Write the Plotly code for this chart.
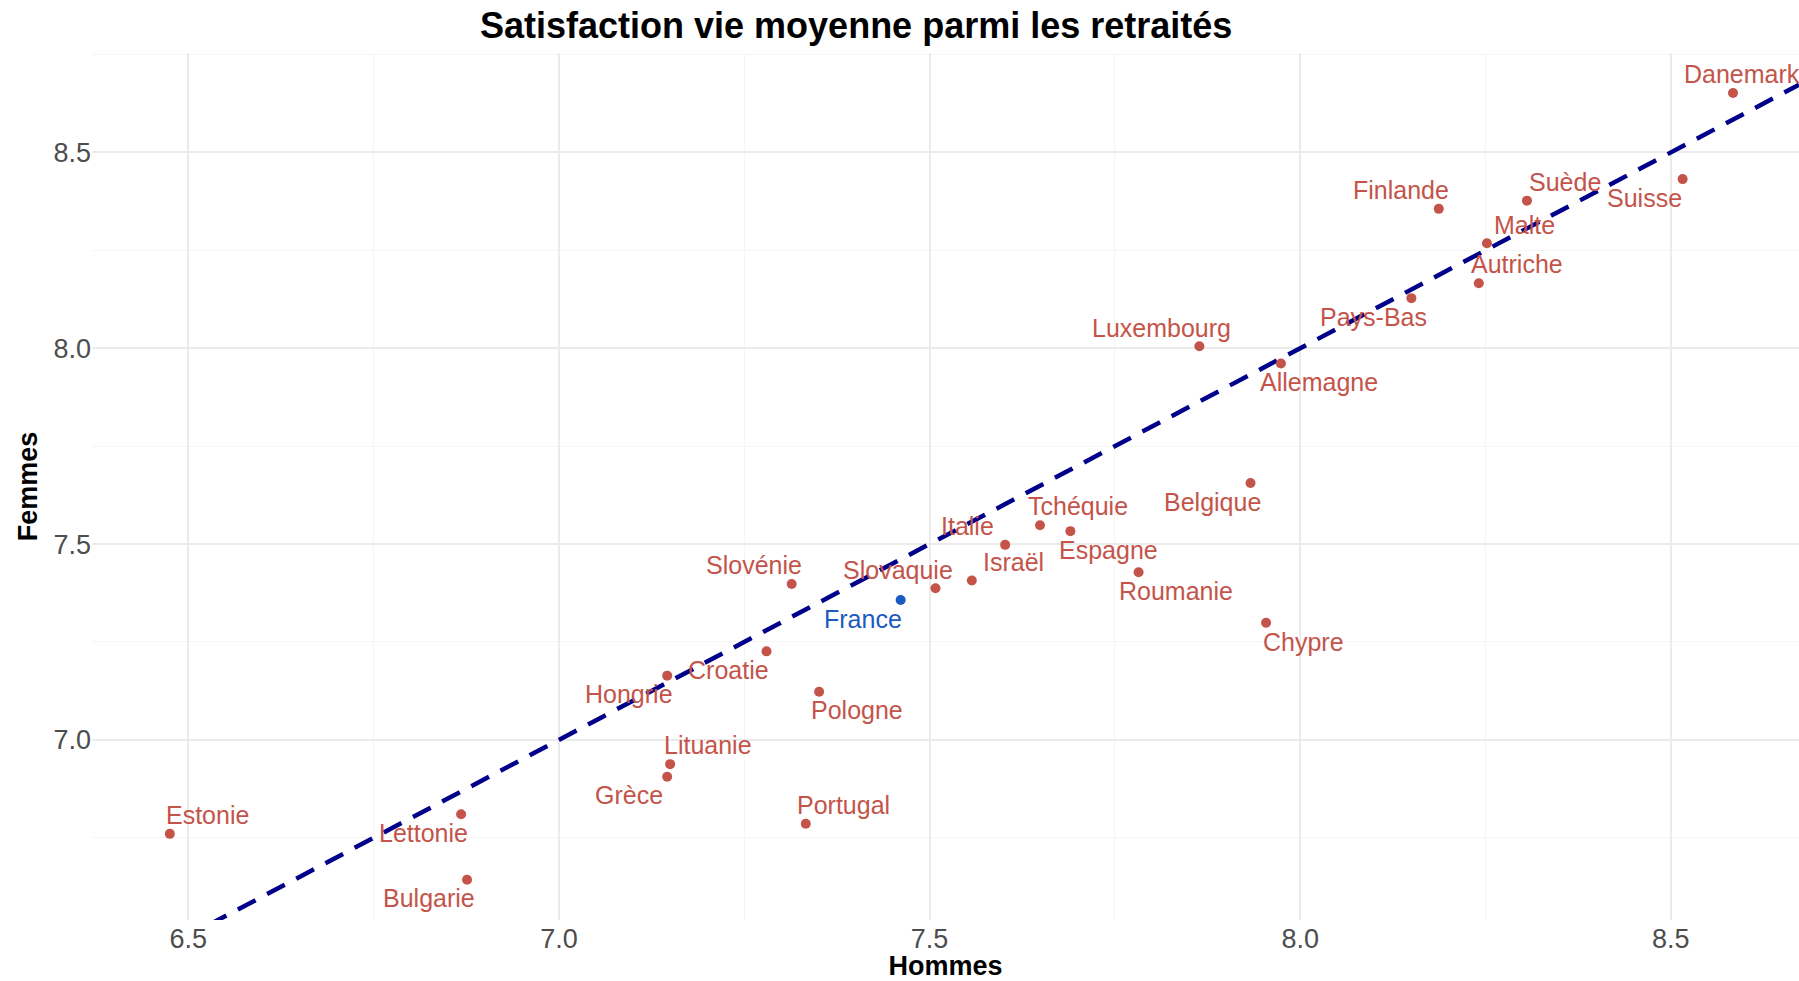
import plotly.graph_objects as go

# Satisfaction moyenne : hommes (x) vs femmes (y)
pays = ["Danemark", "Suisse", "Suède", "Finlande", "Malte", "Autriche", "Pays-Bas",
        "Luxembourg", "Allemagne", "Belgique", "Tchéquie", "Espagne", "Italie", "Israël",
        "Slovaquie", "France", "Roumanie", "Chypre", "Slovénie", "Croatie", "Hongrie",
        "Pologne", "Lituanie", "Grèce", "Portugal", "Estonie", "Lettonie", "Bulgarie"]
hommes = [8.584, 8.516, 8.306, 8.187, 8.252, 8.241, 8.150,
          7.864, 7.974, 7.933, 7.649, 7.690, 7.602, 7.557,
          7.508, 7.461, 7.782, 7.954, 7.314, 7.280, 7.146,
          7.351, 7.150, 7.146, 7.333, 6.475, 6.868, 6.876]
femmes = [8.652, 8.432, 8.377, 8.356, 8.268, 8.166, 8.128,
          8.005, 7.961, 7.656, 7.548, 7.533, 7.498, 7.407,
          7.387, 7.357, 7.428, 7.299, 7.398, 7.226, 7.164,
          7.123, 6.938, 6.906, 6.786, 6.760, 6.810, 6.643]

x_ticks = [6.5, 7.0, 7.5, 8.0, 8.5]
y_ticks = [7.0, 7.5, 8.0, 8.5]

# direction of the label nudge for each country (sx, sy)
nudge = {
    "Danemark": (0.25, 1), "Suisse": (-1, -1), "Suède": (1, 1), "Finlande": (-1, 1),
    "Malte": (1, 1), "Autriche": (1, 1), "Pays-Bas": (-1, -1), "Luxembourg": (-1, 1),
    "Allemagne": (1, -1), "Belgique": (-1, -1), "Tchéquie": (1, 1), "Espagne": (1, -1),
    "Italie": (-1, 1), "Israël": (1.1, 1), "Slovaquie": (-1, 1), "France": (-1, -1),
    "Roumanie": (1, -1), "Chypre": (1, -1), "Slovénie": (-1, 1), "Croatie": (-1, -1),
    "Hongrie": (-1, -1), "Pologne": (1, -1), "Lituanie": (1, 1), "Grèce": (-1, -1),
    "Portugal": (1, 1), "Estonie": (1, 1), "Lettonie": (-1, -1), "Bulgarie": (-1, -1),
}
NX, NY = 0.051, 0.048

RED = "#C4544A"
BLUE = "#1A5BC2"
colors = [BLUE if p == "France" else RED for p in pays]

xr = [6.370, 8.673]
yr = [6.540, 8.754]

fig = go.Figure()

# diagonale y = x
fig.add_trace(go.Scatter(
    x=xr, y=xr, mode="lines",
    line=dict(color="#00008B", width=4.5, dash="20px,13px"),
    hoverinfo="skip", showlegend=False,
))

fig.add_trace(go.Scatter(
    x=hommes, y=femmes, mode="markers",
    marker=dict(color=colors, size=10),
    text=pays, hovertemplate="%{text}<br>Hommes %{x}<br>Femmes %{y}<extra></extra>",
    showlegend=False,
))

for p, hx, fy, c in zip(pays, hommes, femmes, colors):
    sx, sy = nudge[p]
    fig.add_annotation(
        x=hx + sx * NX, y=fy + sy * NY, text=p, showarrow=False,
        font=dict(family="Liberation Sans, Arial, sans-serif", size=25, color=c),
        xanchor="center", yanchor="middle",
    )

fig.add_annotation(
    xref="paper", yref="paper", x=(856 - 92) / (1799 - 92), y=1, yshift=28,
    text="<b>Satisfaction vie moyenne parmi les retraités</b>", showarrow=False,
    font=dict(family="Liberation Sans, Arial, sans-serif", size=36, color="black"),
    xanchor="center", yanchor="middle",
)

grid_major = "#EBEBEB"
fig.update_layout(
    width=1799, height=981,
    margin=dict(l=92, r=0, t=53, b=61),
    plot_bgcolor="white", paper_bgcolor="white",
    font=dict(family="Liberation Sans, Arial, sans-serif"),
    xaxis=dict(
        range=xr, tickvals=x_ticks, ticktext=[f"{v:.1f}" for v in x_ticks],
        tickfont=dict(size=27, color="#4D4D4D"), ticks="", showline=False,
        gridcolor=grid_major, gridwidth=1.5, zeroline=False,
        minor=dict(dtick=0.25, tick0=6.25, showgrid=True, gridcolor="#F5F5F5", gridwidth=1),
        title=dict(text="<b>Hommes</b>", font=dict(size=27, color="black"), standoff=2),
    ),
    yaxis=dict(
        range=yr, tickvals=y_ticks, ticktext=[f"{v:.1f}" for v in y_ticks],
        tickfont=dict(size=27, color="#4D4D4D"), ticks="", showline=False,
        gridcolor=grid_major, gridwidth=1.5, zeroline=False,
        minor=dict(dtick=0.25, tick0=6.25, showgrid=True, gridcolor="#F5F5F5", gridwidth=1),
        title=dict(text="<b>Femmes</b>", font=dict(size=27, color="black"), standoff=8),
    ),
)

fig.write_html("out.html", config={"displayModeBar": False},
               post_script="document.body.style.margin='0';")
